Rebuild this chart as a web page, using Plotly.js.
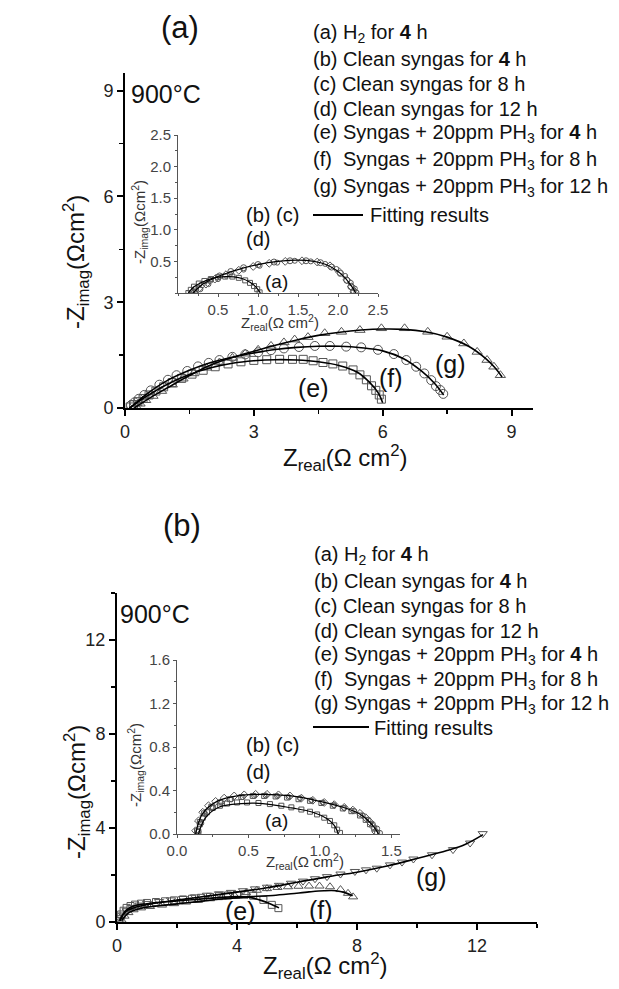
<!DOCTYPE html>
<html>
<head>
<meta charset="utf-8">
<script src="https://cdn.plot.ly/plotly-3.0.1.min.js"></script>
<style>html,body{margin:0;padding:0;background:#fff;}#chart{width:619px;height:989px;}</style>
</head>
<body>
<div id="chart"></div>
<script>
// ---------- Panel (a): main plot data ----------
const aE_x = [0.12,0.2,0.3,0.42,0.56,0.72,0.9,1.1,1.32,1.56,1.82,2.1,2.4,2.7,3.0,3.3,3.6,3.9,4.15,4.38,4.61,4.84,5.07,5.31,5.47,5.62,5.74,5.84,5.92,5.97];
const aE_y = [0.03,0.1,0.18,0.27,0.37,0.48,0.6,0.72,0.84,0.96,1.07,1.17,1.25,1.31,1.35,1.37,1.38,1.38,1.38,1.34,1.29,1.25,1.19,1.08,0.94,0.80,0.63,0.50,0.37,0.25];
const aF_x = [0.14,0.22,0.32,0.45,0.6,0.8,1.0,1.2,1.45,1.7,1.95,2.2,2.5,2.8,3.1,3.4,3.7,4.05,4.42,4.77,5.15,5.5,5.89,6.26,6.55,6.78,6.97,7.13,7.24,7.34,7.41];
const aF_y = [0.08,0.16,0.26,0.37,0.5,0.66,0.8,0.93,1.05,1.18,1.28,1.36,1.45,1.52,1.58,1.64,1.69,1.73,1.76,1.76,1.74,1.72,1.65,1.53,1.36,1.17,0.98,0.79,0.62,0.51,0.40];
const aG_x = [0.25,0.35,0.48,0.65,0.85,1.1,1.35,1.6,1.9,2.2,2.5,2.8,3.1,3.4,3.7,3.95,4.26,4.65,5.04,5.47,5.97,6.51,7.05,7.5,7.89,8.2,8.43,8.59,8.74];
const aG_y = [0.05,0.12,0.22,0.34,0.48,0.66,0.83,0.98,1.14,1.29,1.42,1.54,1.65,1.76,1.86,1.94,2.01,2.12,2.16,2.21,2.26,2.26,2.16,2.02,1.83,1.59,1.36,1.17,0.93];
// fitting results (a) main
const aFitE_x = [0.1,0.5,1.0,1.5,2.0,2.5,3.0,3.5,4.0,4.5,5.0,5.4,5.7,5.9,6.0];
const aFitE_y = [0,0.33,0.68,0.95,1.14,1.27,1.34,1.37,1.36,1.31,1.2,1.02,0.72,0.42,0.15];
const aFitF_x = [0.12,0.5,1.0,1.5,2.0,2.5,3.0,3.5,4.0,4.5,5.0,5.5,6.0,6.5,6.9,7.2,7.42];
const aFitF_y = [0,0.39,0.79,1.07,1.29,1.44,1.56,1.66,1.72,1.75,1.75,1.71,1.62,1.39,1.05,0.71,0.37];
const aFitG_x = [0.22,0.6,1.0,1.5,2.0,2.5,3.0,3.5,4.0,4.5,5.0,5.5,6.0,6.5,7.0,7.5,8.0,8.4,8.6,8.78];
const aFitG_y = [0,0.3,0.58,0.92,1.22,1.43,1.61,1.78,1.93,2.06,2.15,2.21,2.24,2.23,2.16,2.01,1.75,1.4,1.16,0.88];

// ---------- Panel (a): inset data ----------
const aiA_x = [0.13,0.16,0.2,0.26,0.33,0.41,0.5,0.59,0.68,0.76,0.84,0.9,0.95,0.99,1.02];
const aiA_y = [0.0,0.05,0.1,0.15,0.19,0.22,0.25,0.26,0.26,0.24,0.2,0.16,0.11,0.06,0.01];
const aiB_x = [0.17,0.22,0.3,0.4,0.52,0.66,0.82,1.0,1.2,1.4,1.6,1.78,1.92,2.03,2.11,2.16,2.19];
const aiB_y = [0.0,0.06,0.13,0.2,0.27,0.34,0.4,0.45,0.49,0.51,0.51,0.48,0.41,0.31,0.2,0.1,0.02];
const aiC_x = [0.2,0.26,0.35,0.46,0.6,0.76,0.94,1.14,1.34,1.55,1.74,1.9,2.02,2.11,2.17,2.21];
const aiC_y = [0.0,0.07,0.14,0.22,0.29,0.36,0.42,0.47,0.5,0.51,0.49,0.43,0.33,0.21,0.1,0.02];
const aiD_x = [0.22,0.28,0.38,0.5,0.65,0.82,1.02,1.24,1.46,1.66,1.84,1.98,2.09,2.16,2.21,2.23];
const aiD_y = [0.0,0.06,0.14,0.22,0.3,0.37,0.43,0.48,0.51,0.5,0.46,0.38,0.27,0.16,0.07,0.01];
const aiFitA_x = [0.13,0.2,0.3,0.4,0.5,0.6,0.7,0.8,0.9,0.97,1.03];
const aiFitA_y = [0,0.1,0.17,0.22,0.25,0.26,0.255,0.23,0.17,0.1,0];
const aiFitB_x = [0.19,0.3,0.5,0.75,1.0,1.25,1.5,1.7,1.85,1.98,2.08,2.15,2.2,2.22];
const aiFitB_y = [0,0.13,0.26,0.37,0.45,0.5,0.52,0.5,0.45,0.36,0.25,0.14,0.05,0];

// ---------- Panel (b): main plot data ----------
const bE_x = [0.08,0.14,0.22,0.32,0.45,0.6,0.8,1.0,1.3,1.6,1.9,2.2,2.5,2.8,3.1,3.4,3.7,4.0,4.25,4.54,4.88,5.16,5.38];
const bE_y = [0.12,0.32,0.48,0.6,0.68,0.74,0.78,0.81,0.85,0.88,0.92,0.96,0.99,1.03,1.07,1.1,1.13,1.15,1.16,1.12,0.94,0.73,0.59];
const bF_x = [0.15,0.25,0.38,0.55,0.8,1.1,1.5,1.9,2.3,2.7,3.1,3.5,3.9,4.3,4.66,5.0,5.35,5.7,6.05,6.4,6.75,7.1,7.45,7.7,7.87];
const bF_y = [0.08,0.25,0.4,0.52,0.6,0.66,0.72,0.78,0.85,0.92,0.99,1.07,1.15,1.25,1.35,1.42,1.47,1.5,1.52,1.53,1.53,1.5,1.38,1.22,1.07];
const bG_x = [0.12,0.2,0.32,0.5,0.75,1.0,1.4,1.8,2.2,2.6,3.0,3.4,3.8,4.2,4.6,5.0,5.4,5.8,6.2,6.6,7.0,7.45,7.93,8.3,8.66,9.1,9.5,9.88,10.5,11.2,11.77,12.19];
const bG_y = [0.1,0.3,0.48,0.62,0.72,0.79,0.87,0.94,1.0,1.07,1.14,1.2,1.26,1.33,1.41,1.48,1.56,1.65,1.74,1.84,1.93,2.04,2.15,2.22,2.29,2.43,2.55,2.68,2.86,3.08,3.36,3.76];
const bFitE_x = [0.08,0.3,0.6,1.0,1.5,2.0,2.5,3.0,3.5,4.0,4.4,4.8,5.1,5.4];
const bFitE_y = [0.05,0.5,0.7,0.78,0.85,0.9,0.95,1.0,1.05,1.08,1.05,0.92,0.78,0.6];
const bFitF_x = [0.15,0.4,0.8,1.5,2.5,3.5,4.5,5.2,5.8,6.4,6.9,7.3,7.6,7.85];
const bFitF_y = [0.05,0.4,0.58,0.7,0.84,0.98,1.08,1.13,1.2,1.28,1.33,1.33,1.25,1.12];
const bFitG_x = [0.1,0.3,0.6,1.0,1.5,2,3,4,5,6,7,8,9,10,11,11.6,12.2];
const bFitG_y = [0.05,0.45,0.62,0.74,0.84,0.93,1.1,1.27,1.46,1.69,1.92,2.12,2.38,2.7,3.04,3.3,3.72];

// ---------- Panel (b): inset data ----------
const biA_x = [0.15,0.16,0.18,0.21,0.25,0.3,0.35,0.42,0.49,0.57,0.65,0.73,0.8,0.87,0.93,0.98,1.03,1.07,1.1,1.12,1.14];
const biA_y = [0.02,0.09,0.15,0.2,0.24,0.26,0.28,0.29,0.29,0.285,0.275,0.26,0.245,0.225,0.205,0.18,0.15,0.12,0.08,0.04,0.01];
const biB_x = [0.13,0.15,0.18,0.22,0.27,0.33,0.4,0.47,0.55,0.63,0.71,0.79,0.87,0.95,1.03,1.1,1.17,1.23,1.28,1.32,1.35,1.37,1.39];
const biB_y = [0.03,0.12,0.2,0.26,0.3,0.33,0.35,0.36,0.365,0.365,0.36,0.35,0.33,0.31,0.29,0.27,0.245,0.22,0.19,0.15,0.11,0.07,0.02];
const biC_x = [0.15,0.17,0.2,0.25,0.31,0.38,0.46,0.54,0.62,0.7,0.78,0.86,0.94,1.02,1.1,1.17,1.24,1.3,1.34,1.37,1.4,1.42];
const biC_y = [0.02,0.1,0.18,0.24,0.29,0.32,0.34,0.35,0.355,0.35,0.34,0.33,0.31,0.29,0.265,0.24,0.21,0.17,0.13,0.09,0.05,0.01];
const biD_x = [0.14,0.16,0.19,0.24,0.3,0.37,0.45,0.53,0.61,0.69,0.77,0.85,0.93,1.01,1.09,1.16,1.22,1.28,1.32,1.35,1.38,1.4];
const biD_y = [0.03,0.11,0.19,0.25,0.29,0.32,0.34,0.35,0.35,0.345,0.335,0.32,0.305,0.285,0.26,0.235,0.21,0.17,0.13,0.09,0.05,0.01];
const biFitA_x = [0.15,0.2,0.3,0.45,0.6,0.8,0.95,1.05,1.1,1.13];
const biFitA_y = [0,0.15,0.25,0.28,0.28,0.24,0.2,0.14,0.08,0];
const biFitB_x = [0.13,0.18,0.28,0.42,0.6,0.8,1.0,1.15,1.27,1.34,1.38,1.41];
const biFitB_y = [0,0.19,0.3,0.35,0.365,0.35,0.3,0.25,0.19,0.12,0.06,0];

// ---------- Tick labels ----------
const insetATicks = [0.5,1,1.5,2,2.5];
const insetATickText = ["0.5","1.0","1.5","2.0","2.5"];
const insetBxTicks = [0,0.5,1,1.5];
const insetBxTickText = ["0.0","0.5","1.0","1.5"];
const insetByTicks = [0,0.4,0.8,1.2,1.6];
const insetByTickText = ["0.0","0.4","0.8","1.2","1.6"];

// ---------- Text ----------
const legendLines = [
  "(a) H<sub>2</sub> for <b>4</b> h",
  "(b) Clean syngas for <b>4</b> h",
  "(c) Clean syngas for 8 h",
  "(d) Clean syngas for 12 h",
  "(e) Syngas + 20ppm PH<sub>3</sub> for <b>4</b> h",
  "(f)  Syngas + 20ppm PH<sub>3</sub> for 8 h",
  "(g) Syngas + 20ppm PH<sub>3</sub> for 12 h"
];
const fitLabel = "Fitting results";
const yTitle = "-Z<sub>imag</sub>(Ωcm<sup>2</sup>)";
const xTitle = "Z<sub>real</sub>(Ω cm<sup>2</sup>)";
const tempLabel = "900°C";

// ---------- Layout helpers ----------
const W = 619, H = 989;
const px = v => v / W;
const py = v => 1 - v / H;
const FONT = "Liberation Sans, Arial, Helvetica, sans-serif";
const MK = "#555";

function markers(x, y, sym, size, xa, ya) {
  return {x, y, xaxis: xa, yaxis: ya, type: "scatter", mode: "markers", hoverinfo: "skip",
    marker: {symbol: sym, size: size, color: MK, line: {width: 1, color: MK}}};
}
function fit(x, y, w, xa, ya) {
  return {x, y, xaxis: xa, yaxis: ya, type: "scatter", mode: "lines", hoverinfo: "skip",
    line: {color: "#000", width: w, shape: "spline", smoothing: 1}};
}

const traces = [
  markers(aE_x, aE_y, "square-open", 8, "x", "y"),
  markers(aF_x, aF_y, "circle-open", 9, "x", "y"),
  markers(aG_x, aG_y, "triangle-up-open", 9, "x", "y"),
  fit(aFitE_x, aFitE_y, 1.6, "x", "y"),
  fit(aFitF_x, aFitF_y, 1.6, "x", "y"),
  fit(aFitG_x, aFitG_y, 1.6, "x", "y"),
  markers(aiA_x, aiA_y, "square-open", 5, "x2", "y2"),
  markers(aiB_x, aiB_y, "circle-open", 6, "x2", "y2"),
  markers(aiC_x, aiC_y, "diamond-open", 6, "x2", "y2"),
  markers(aiD_x, aiD_y, "circle-open", 5, "x2", "y2"),
  fit(aiFitA_x, aiFitA_y, 1.2, "x2", "y2"),
  fit(aiFitB_x, aiFitB_y, 1.2, "x2", "y2"),
  markers(bE_x, bE_y, "square-open", 7, "x3", "y3"),
  markers(bF_x, bF_y, "triangle-up-open", 8, "x3", "y3"),
  markers(bG_x, bG_y, "triangle-down-open", 8, "x3", "y3"),
  fit(bFitE_x, bFitE_y, 1.6, "x3", "y3"),
  fit(bFitF_x, bFitF_y, 1.6, "x3", "y3"),
  fit(bFitG_x, bFitG_y, 1.6, "x3", "y3"),
  markers(biA_x, biA_y, "square-open", 5, "x4", "y4"),
  markers(biB_x, biB_y, "diamond-open", 6, "x4", "y4"),
  markers(biC_x, biC_y, "circle-open", 5, "x4", "y4"),
  markers(biD_x, biD_y, "square-open", 5, "x4", "y4"),
  fit(biFitA_x, biFitA_y, 1.2, "x4", "y4"),
  fit(biFitB_x, biFitB_y, 1.2, "x4", "y4")
];

function mainAxis(domain, range, dtick, minor, anchor) {
  return {domain, range, anchor, showline: true, linewidth: 2, linecolor: "#000",
    showgrid: false, zeroline: false, ticks: "outside", ticklen: 6, tickwidth: 2, tickcolor: "#000",
    tick0: 0, dtick: dtick, minor: {ticks: "outside", ticklen: 4, tickwidth: 1.5, tickcolor: "#000", dtick: minor, showgrid: false},
    tickfont: {family: FONT, size: 18, color: "#222"}, fixedrange: true};
}
function insetAxis(domain, range, vals, texts, minor, anchor) {
  return {domain, range, anchor, showline: true, linewidth: 1, linecolor: "#555",
    showgrid: false, zeroline: false, ticks: "outside", ticklen: 3, tickwidth: 1, tickcolor: "#555",
    tickmode: "array", tickvals: vals, ticktext: texts,
    minor: {ticks: "outside", ticklen: 2, tickwidth: 1, tickcolor: "#555", dtick: minor, tick0: 0, showgrid: false},
    tickfont: {family: FONT, size: 15, color: "#444"}, fixedrange: true};
}

const ann = [];
function txt(text, x, y, size, opts) {
  ann.push(Object.assign({text, x: px(x), y: py(y), xref: "paper", yref: "paper", showarrow: false,
    xanchor: "left", yanchor: "middle", font: {family: FONT, size, color: "#111"}}, opts || {}));
}
const insetFont = {family: FONT, size: 15, color: "#333"};
// panel (a)
txt("(a)", 180, 28, 31, {xanchor: "center"});
txt(tempLabel, 129, 94, 25);
const legA = [33, 59, 84, 109, 134, 160, 187];
legendLines.forEach((t, i) => txt(t, 311, legA[i], 20));
txt(fitLabel, 368, 215, 20);
txt("(b) (c)", 244, 215, 20);
txt("(d)", 244, 239, 20);
txt("(a)", 276, 281, 19, {xanchor: "center"});
txt("(e)", 313, 388, 25, {xanchor: "center"});
txt("(f)", 391, 378, 25, {xanchor: "center"});
txt("(g)", 450, 364, 25, {xanchor: "center"});
txt(yTitle, 76, 262, 24, {xanchor: "center", textangle: -90});
txt(xTitle, 345, 458, 24, {xanchor: "center"});
txt(yTitle, 139, 222, 15, {xanchor: "center", textangle: -90, font: insetFont});
txt(xTitle, 280, 322, 15, {xanchor: "center", font: insetFont});
// panel (b)
txt("(b)", 182, 525, 31, {xanchor: "center"});
txt(tempLabel, 118, 614, 25);
const legB = [555, 581, 606, 631, 655, 680, 704];
legendLines.forEach((t, i) => txt(t, 312, legB[i], 20));
txt(fitLabel, 372, 728, 20);
txt("(b) (c)", 244, 745, 20);
txt("(d)", 244, 772, 20);
txt("(a)", 276, 820, 19, {xanchor: "center"});
txt("(e)", 240, 911, 25, {xanchor: "center"});
txt("(f)", 321, 910, 25, {xanchor: "center"});
txt("(g)", 431, 877, 25, {xanchor: "center"});
txt(yTitle, 77, 792, 24, {xanchor: "center", textangle: -90});
txt(xTitle, 325, 966, 24, {xanchor: "center"});
txt(yTitle, 135, 765, 15, {xanchor: "center", textangle: -90, font: insetFont});
txt(xTitle, 305, 861, 15, {xanchor: "center", font: insetFont});

const shapes = [
  {type: "line", xref: "paper", yref: "paper", x0: px(313), x1: px(363), y0: py(215), y1: py(215), line: {color: "#000", width: 2}},
  {type: "line", xref: "paper", yref: "paper", x0: px(313), x1: px(369), y0: py(727), y1: py(727), line: {color: "#000", width: 2}}
];

const layout = {
  width: W, height: H, margin: {l: 0, r: 0, t: 0, b: 0},
  paper_bgcolor: "#fff", plot_bgcolor: "rgba(0,0,0,0)", showlegend: false,
  font: {family: FONT},
  xaxis: mainAxis([px(125), px(533)], [0, 9.5], 3, 1.5, "y"),
  yaxis: mainAxis([py(408), py(73)], [0, 9.5], 3, 1.5, "x"),
  xaxis2: insetAxis([px(178), px(378)], [0, 2.5], insetATicks, insetATickText, 0.25, "y2"),
  yaxis2: insetAxis([py(293), py(135)], [0, 2.5], insetATicks, insetATickText, 0.25, "x2"),
  xaxis3: mainAxis([px(117), px(537)], [0, 14], 4, 2, "y3"),
  yaxis3: mainAxis([py(922), py(593)], [0, 14], 4, 2, "x3"),
  xaxis4: insetAxis([px(177), px(400)], [0, 1.56], insetBxTicks, insetBxTickText, 0.25, "y4"),
  yaxis4: insetAxis([py(834), py(660)], [0, 1.6], insetByTicks, insetByTickText, 0.2, "x4"),
  annotations: ann,
  shapes: shapes
};

Plotly.newPlot("chart", traces, layout, {staticPlot: true, displayModeBar: false});
</script>
</body>
</html>
